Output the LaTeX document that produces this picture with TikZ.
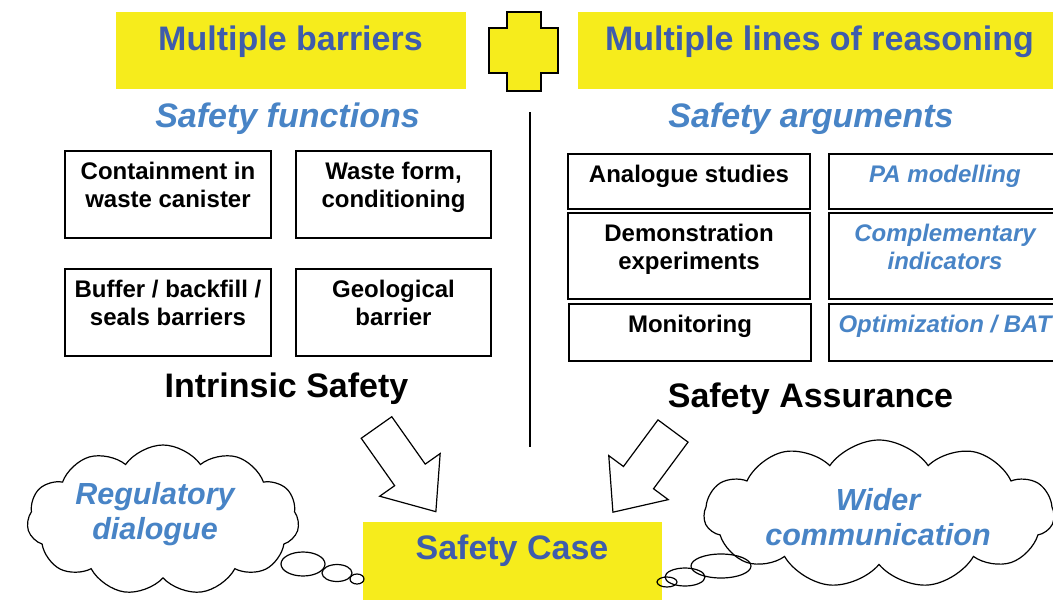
\documentclass[tikz,border=0pt]{standalone}
\usepackage{fontspec}
\setmainfont{Liberation Sans}
\usetikzlibrary{shapes.symbols,positioning}
\definecolor{yell}{RGB}{246,236,28}
\definecolor{darkblue}{RGB}{62,92,172}
\definecolor{lightblue}{RGB}{72,132,198}

\begin{document}
\begin{tikzpicture}[x=1pt,y=-1pt,
    big/.style={anchor=base,inner sep=0pt,font=\fontsize{34}{40}\selectfont\bfseries},
    heading/.style={big,text=darkblue},
    subhead/.style={big,text=lightblue,font=\fontsize{34}{40}\selectfont\bfseries\itshape},
    fbox/.style={draw,line width=1.2pt,inner sep=0pt},
    btext/.style={anchor=north,inner sep=0pt,align=center,yshift=-12pt,
      font=\fontsize{24}{28}\selectfont\bfseries},
    itext/.style={btext,text=lightblue,font=\fontsize{24}{28}\selectfont\bfseries\itshape},
    thought/.style={cloud,draw,line width=1.2pt,cloud puffs=11,cloud puff arc=110},
    cloudtext/.style={inner sep=0pt,align=center,text=lightblue,
      font=\fontsize{30.5}{35}\selectfont\bfseries\itshape},
    bubble/.style={draw,line width=1.2pt},
    blockarrow/.style={draw,fill=white,line width=1.2pt}]
  \clip (0,0) rectangle (1053,600);
  \fill[white] (0,0) rectangle (1053,600);

  % top bars and the plus sign
  \fill[yell] (116,12) rectangle (466,89);
  \fill[yell] (578,12) rectangle (1061,89);
  \node[heading] (barriers) at (290.5,50) {Multiple barriers};
  \node[heading] (reasoning) at (819.5,50) {Multiple lines of reasoning};
  \draw[fill=yell,line width=1.5pt] (507,12) -- (541,12) -- (541,28) -- (558,28)
    -- (558,73) -- (541,73) -- (541,91) -- (507,91) -- (507,73) -- (489,73)
    -- (489,28) -- (507,28) -- cycle;

  \node[subhead] (functions) at (287.5,127) {Safety functions};
  \node[subhead] (arguments) at (811,127) {Safety arguments};

  \draw[line width=1.2pt] (530,112) -- (530,447);

  % left: barriers
  \node[fbox,minimum width=206,minimum height=87] (contain) at (168,194.5) {};
  \node[fbox,minimum width=195,minimum height=87] (wasteform) at (393.5,194.5) {};
  \node[fbox,minimum width=206,minimum height=87] (buffer) at (168,312.5) {};
  \node[fbox,minimum width=195,minimum height=87] (geology) at (393.5,312.5) {};
  \node[btext] (containtxt) at (contain.north) {Containment in\\waste canister};
  \node[btext] (wasteformtxt) at (wasteform.north) {Waste form,\\conditioning};
  \node[btext] (buffertxt) at (buffer.north) {Buffer / backfill /\\seals barriers};
  \node[btext] (geologytxt) at (geology.north) {Geological\\barrier};
  \node[big] (intrinsic) at (286.5,397) {Intrinsic Safety};

  % right: lines of reasoning
  \node[fbox,minimum width=242,minimum height=55] (analogue) at (689,181.5) {};
  \node[fbox,minimum width=242,minimum height=86] (demo) at (689,256) {};
  \node[fbox,minimum width=242,minimum height=57] (monitor) at (690,332.5) {};
  \node[fbox,minimum width=232,minimum height=55] (pamodel) at (945,181.5) {};
  \node[fbox,minimum width=232,minimum height=86] (complement) at (945,256) {};
  \node[fbox,minimum width=232,minimum height=57] (optim) at (945,332.5) {};
  \node[btext] (analoguetxt) at (analogue.north) {Analogue studies};
  \node[btext] (demotxt) at (demo.north) {Demonstration\\experiments};
  \node[btext] (monitortxt) at (monitor.north) {Monitoring};
  \node[itext] (pamodeltxt) at (pamodel.north) {PA modelling};
  \node[itext] (complementtxt) at (complement.north) {Complementary\\indicators};
  \node[itext] (optimtxt) at (optim.north) {Optimization / BAT};
  \node[big] (assurance) at (810.5,407) {Safety Assurance};

  % both sides feed the safety case
  \begin{scope}[shift={(376.5,427.5)},rotate=-54.8]
    \draw[blockarrow] (0,-18.7) -- (58,-18.7) -- (58,-37) -- (103,0)
      -- (58,37) -- (58,18.7) -- (0,18.7) -- cycle;
  \end{scope}
  \begin{scope}[shift={(673,431)},rotate=-126.5]
    \draw[blockarrow] (0,-18.7) -- (58,-18.7) -- (58,-37) -- (101,0)
      -- (58,37) -- (58,18.7) -- (0,18.7) -- cycle;
  \end{scope}
  \fill[yell] (363,522) rectangle (662,610);
  \node[heading] (safetycase) at (512,559) {Safety Case};

  % dialogue clouds
  \node[thought,aspect=1.8,minimum width=272,minimum height=150] (regcloud) at (163,520) {};
  \node[cloudtext] (regtxt) at (155,514) {Regulatory\\dialogue};
  \draw[bubble] (303,564) ellipse [x radius=22,y radius=12];
  \draw[bubble] (337,573) ellipse [x radius=15,y radius=8.5];
  \draw[bubble] (357,579) ellipse [x radius=7,y radius=5];

  \node[thought,aspect=2.4,minimum width=350,minimum height=148] (widecloud) at (879,514) {};
  \node[cloudtext] (widetxt) at (878,517) {Wider\\communication};
  \draw[bubble] (721,566) ellipse [x radius=30,y radius=12];
  \draw[bubble] (685,577) ellipse [x radius=20,y radius=9];
  \draw[bubble] (667,582) ellipse [x radius=10,y radius=5];
\end{tikzpicture}
\end{document}
